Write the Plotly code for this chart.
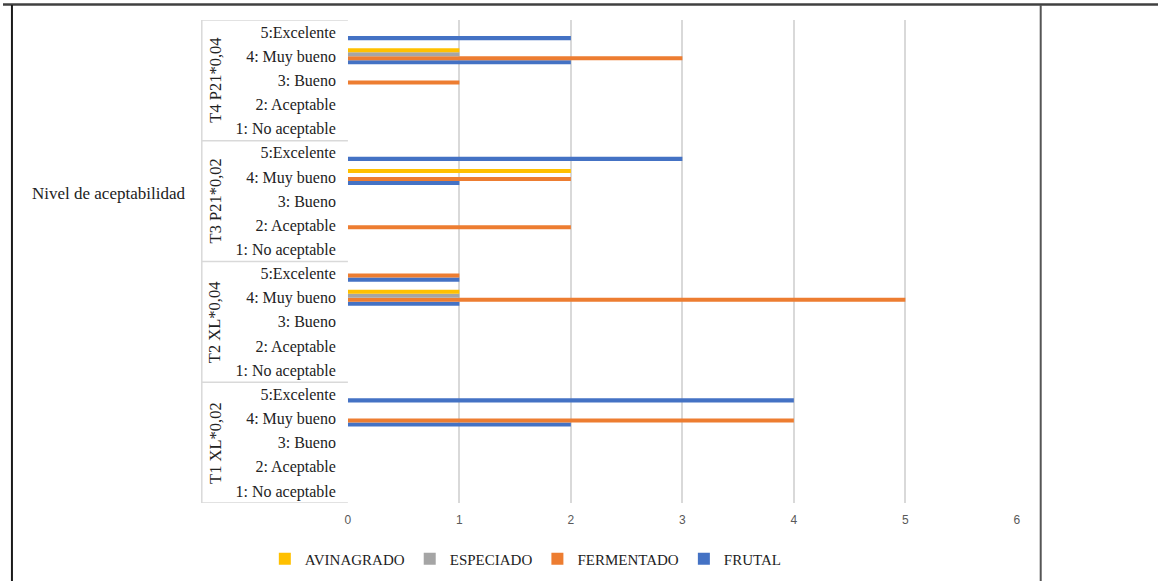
import plotly.graph_objects as go

W, H = 1162, 581

# datos
grupos = ["T1 XL*0,02", "T2 XL*0,04", "T3 P21*0,02", "T4 P21*0,04"]
niveles = ["1: No aceptable", "2: Aceptable", "3: Bueno", "4: Muy bueno", "5:Excelente"]

# valores por grupo (T1..T4), nivel 1..5
avinagrado = [[0, 0, 0, 0, 0], [0, 0, 0, 1, 0], [0, 0, 0, 2, 0], [0, 0, 0, 1, 0]]
especiado = [[0, 0, 0, 0, 0], [0, 0, 0, 1, 0], [0, 0, 0, 0, 0], [0, 0, 0, 1, 0]]
fermentado = [[0, 0, 0, 4, 0], [0, 0, 0, 5, 1], [0, 2, 0, 2, 0], [0, 0, 1, 3, 0]]
frutal = [[0, 0, 0, 2, 4], [0, 0, 0, 1, 1], [0, 0, 0, 1, 3], [0, 0, 0, 2, 2]]

x_ticks = [0, 1, 2, 3, 4, 5, 6]

series = [
    ("FRUTAL", frutal, "#4472C4"),
    ("FERMENTADO", fermentado, "#ED7D31"),
    ("ESPECIADO", especiado, "#A5A5A5"),
    ("AVINAGRADO", avinagrado, "#FFC000"),
]

SERIF = "Liberation Serif, Times New Roman, serif"
n_niv = len(niveles)

# posiciones de categoria: grupo*5 + nivel
y_pos = [g * n_niv + l for g in range(len(grupos)) for l in range(n_niv)]
y_txt = [niveles[l] for g in range(len(grupos)) for l in range(n_niv)]

fig = go.Figure()
for nombre, vals, color in series:
    fig.add_trace(go.Bar(
        name=nombre,
        orientation="h",
        y=y_pos,
        x=[v for fila in vals for v in fila],
        marker=dict(color=color, line=dict(width=0)),
    ))


def px(x):
    return x / W


def py(y):
    return 1 - y / H


x0, x1 = 347, 1020
y_top, y_bot = 20, 503
box_left = 200

shapes = []
# separadores de grupos
for k in range(len(grupos) + 1):
    yy = k * n_niv - 0.5
    shapes.append(dict(type="line", xref="paper", yref="y", x0=px(box_left), x1=px(x0),
                       y0=yy, y1=yy, line=dict(color="#D9D9D9", width=1.5)))
shapes.append(dict(type="line", xref="paper", yref="y", x0=px(box_left), x1=px(box_left),
                   y0=-0.5, y1=len(grupos) * n_niv - 0.5, line=dict(color="#D9D9D9", width=1.5)))
# bordes de la tabla
shapes.append(dict(type="line", xref="paper", yref="paper", x0=0, x1=1, y0=py(4.5), y1=py(4.5),
                   line=dict(color="#404040", width=2.5)))
shapes.append(dict(type="line", xref="paper", yref="paper", x0=px(9), x1=px(9), y0=py(5), y1=0,
                   line=dict(color="#1A1A1A", width=2)))
shapes.append(dict(type="line", xref="paper", yref="paper", x0=px(1044), x1=px(1044), y0=py(5), y1=0,
                   line=dict(color="#555555", width=2)))

annotations = []
for g, nombre in enumerate(grupos):
    annotations.append(dict(
        x=px(202), y=g * n_niv + 2, xref="paper", yref="y", xanchor="left",
        text=nombre, textangle=-90, showarrow=False,
        font=dict(family=SERIF, size=16.5, color="#222222"),
    ))
annotations.append(dict(
    x=px(27), y=py(182), xref="paper", yref="paper", xanchor="left",
    text="Nivel de aceptabilidad", showarrow=False,
    font=dict(family=SERIF, size=17, color="#222222"),
))

fig.update_layout(
    width=W, height=H,
    margin=dict(l=0, r=0, t=0, b=0),
    paper_bgcolor="white", plot_bgcolor="white",
    barmode="group",
    bargap=0.33, bargroupgap=0,
    xaxis=dict(
        domain=[px(x0), px(x1)],
        range=[0, 6], tickvals=x_ticks,
        showgrid=True, gridcolor="#D9D9D9", gridwidth=2,
        zeroline=False, showline=False,
        tickfont=dict(family="Liberation Sans, Arial, sans-serif", size=12, color="#595959"),
        ticks="", ticklabelstandoff=8,
    ),
    yaxis=dict(
        domain=[py(y_bot), py(y_top)],
        range=[-0.5, len(grupos) * n_niv - 0.5],
        tickvals=y_pos, ticktext=y_txt,
        showgrid=False, zeroline=False, showline=False, ticks="",
        ticklabelstandoff=11,
        tickfont=dict(family=SERIF, size=16, color="#222222"),
    ),
    legend=dict(
        orientation="h", traceorder="reversed",
        x=px(526), xanchor="center", y=py(559), yanchor="middle",
        font=dict(family=SERIF, size=15, color="#222222"),
        itemwidth=30,
    ),
    shapes=shapes,
    annotations=annotations,
)

fig.write_html(
    "out.html",
    config={"displayModeBar": False},
    post_script="document.body.style.margin='0';document.body.style.overflow='hidden';",
)
